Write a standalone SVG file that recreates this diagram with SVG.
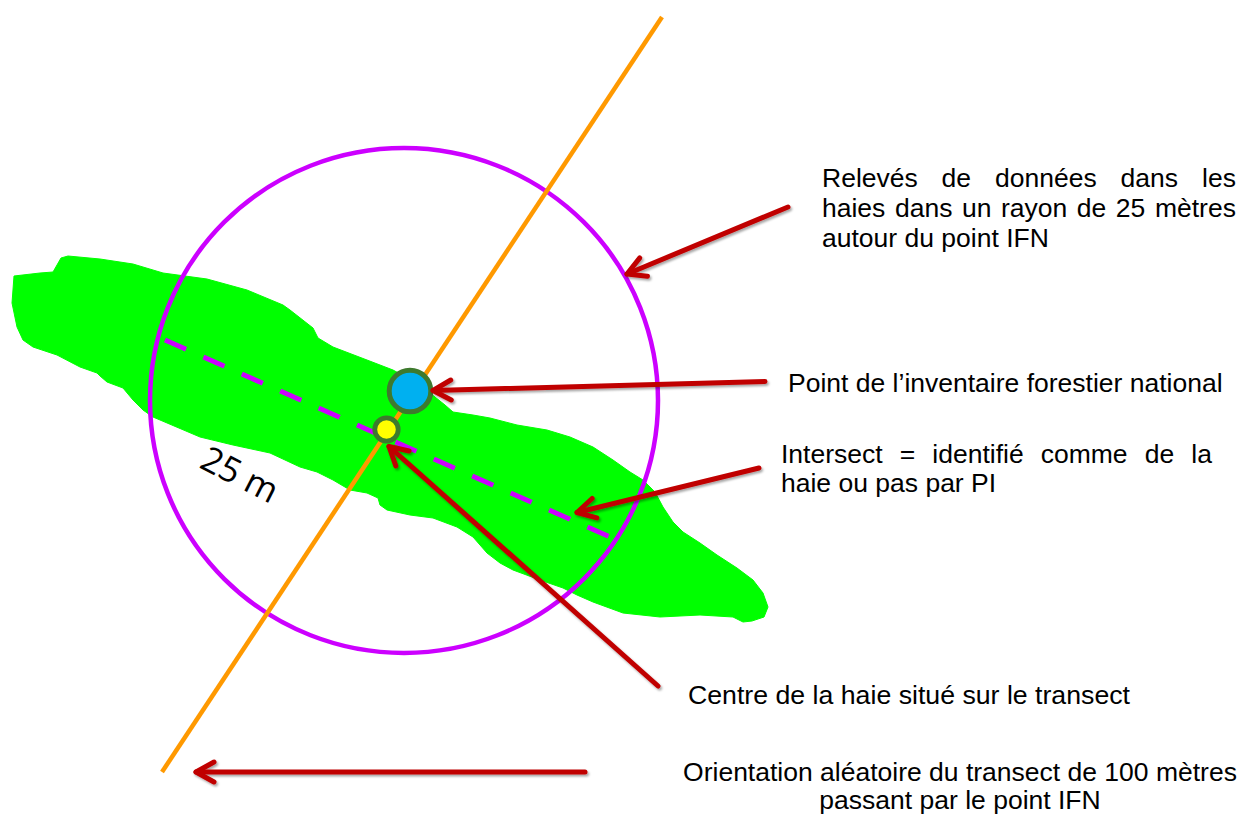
<svg xmlns="http://www.w3.org/2000/svg" width="1242" height="814" viewBox="0 0 1242 814">
<style>
.lbl{font-family:"Liberation Sans",Arial,sans-serif;font-size:26.5px;fill:#000}
.conn{fill:none;stroke:#C00000;stroke-width:5;stroke-linecap:round}
</style>
<defs>
<marker id="ah" markerUnits="userSpaceOnUse" markerWidth="40" markerHeight="40" viewBox="-25 -20 30 40" refX="0" refY="0" orient="auto" overflow="visible">
<path d="M-18,-10 L0,0 L-18,10" fill="none" stroke="#C00000" stroke-width="5" stroke-linecap="round" stroke-linejoin="round"/>
</marker>
<filter id="sh" x="-10%" y="-10%" width="120%" height="130%">
<feDropShadow dx="1.5" dy="2" stdDeviation="1.2" flood-color="#000" flood-opacity="0.35"/>
</filter>
</defs>
<rect width="1242" height="814" fill="#fff"/>

<g id="hedge">
<path fill="#00FF00" stroke="#00FF00" stroke-width="1" stroke-linejoin="round" d="M14,276 L40,273 L53,272 L57,265 L61,258 L68,256 L100,259 L133,264 L163,273 L207,279 L247,290 L283,305 L290,310 L313,328 L318,338 L333,347 L367,360 L393,370 L420,385 L445,405 L453,412 L473,415 L490,418 L517,425 L547,430 L570,437 L593,447 L613,460 L630,472 L643,480 L655,492 L663,507 L673,522 L683,532 L700,543 L717,555 L737,568 L753,580 L763,593 L768,607 L764,617 L752,621 L743,622 L733,617 L700,615 L660,617 L623,613 L593,602 L577,595 L563,588 L540,580 L513,570 L500,563 L487,553 L473,537 L457,527 L433,518 L410,515 L387,510 L380,505 L378,498 L367,493 L350,490 L333,480 L317,472 L300,467 L270,453 L233,445 L200,437 L153,417 L143,410 L133,400 L123,388 L107,382 L100,376 L97,373 L80,367 L57,355 L33,347 L23,340 L17,327 L12,303 Z"/>
</g>

<g id="survey-circle">
<ellipse cx="404" cy="400.5" rx="254" ry="252.5" fill="none" stroke="#CC00FF" stroke-width="4.5"/>
</g>

<g id="transect">
<line x1="662" y1="17" x2="162" y2="772" stroke="#FF9900" stroke-width="4.5"/>
</g>

<g id="intersect-line">
<line x1="165" y1="340" x2="610" y2="537" stroke="#CC00FF" stroke-width="5" stroke-dasharray="23 19"/>
</g>

<g id="ifn-point">
<circle cx="410" cy="391" r="20.8" fill="#00B0F0" stroke="#3E7A2E" stroke-width="5"/>
</g>

<g id="hedge-centre">
<circle cx="386.5" cy="429.5" r="11.7" fill="#FFFF00" stroke="#3E7A2E" stroke-width="4.8"/>
</g>

<g id="radius-label">
<text x="198" y="467" transform="rotate(27 198 467)" style="font-family:'Open Sans','Noto Sans',sans-serif;font-size:35px;fill:#000">25 m</text>
</g>

<g id="connectors" filter="url(#sh)">
<line class="conn" x1="788" y1="207" x2="627" y2="274" marker-end="url(#ah)"/>
<line class="conn" x1="765" y1="381.5" x2="433" y2="390.5" marker-end="url(#ah)"/>
<line class="conn" x1="759" y1="468" x2="577" y2="512.5" marker-end="url(#ah)"/>
<line class="conn" x1="658" y1="686" x2="389" y2="446.5" marker-end="url(#ah)"/>
<line class="conn" x1="585" y1="772" x2="196" y2="772" marker-end="url(#ah)"/>
</g>

<g id="label-survey">
<text class="lbl" y="187"><tspan x="822">Relevés</tspan><tspan x="941.6">de</tspan><tspan x="995">données</tspan><tspan x="1120.6">dans</tspan><tspan x="1202">les</tspan></text>
<text class="lbl" x="822" y="217" style="word-spacing:2.2px">haies dans un rayon de 25 mètres</text>
<text class="lbl" x="822" y="247">autour du point IFN</text>
</g>

<g id="label-ifn">
<text class="lbl" x="788" y="392">Point de l’inventaire forestier national</text>
</g>

<g id="label-intersect">
<text class="lbl" y="463"><tspan x="781">Intersect</tspan><tspan x="899.7">=</tspan><tspan x="932.3">identifié</tspan><tspan x="1040.7">comme</tspan><tspan x="1144.7">de</tspan><tspan x="1191.3">la</tspan></text>
<text class="lbl" x="781" y="492">haie ou pas par PI</text>
</g>

<g id="label-centre">
<text class="lbl" x="688" y="704" textLength="442" lengthAdjust="spacingAndGlyphs">Centre de la haie situé sur le transect</text>
</g>

<g id="label-orientation">
<text class="lbl" x="960" y="781" text-anchor="middle">Orientation aléatoire du transect de 100 mètres</text>
<text class="lbl" x="960" y="809" text-anchor="middle">passant par le point IFN</text>
</g>
</svg>
